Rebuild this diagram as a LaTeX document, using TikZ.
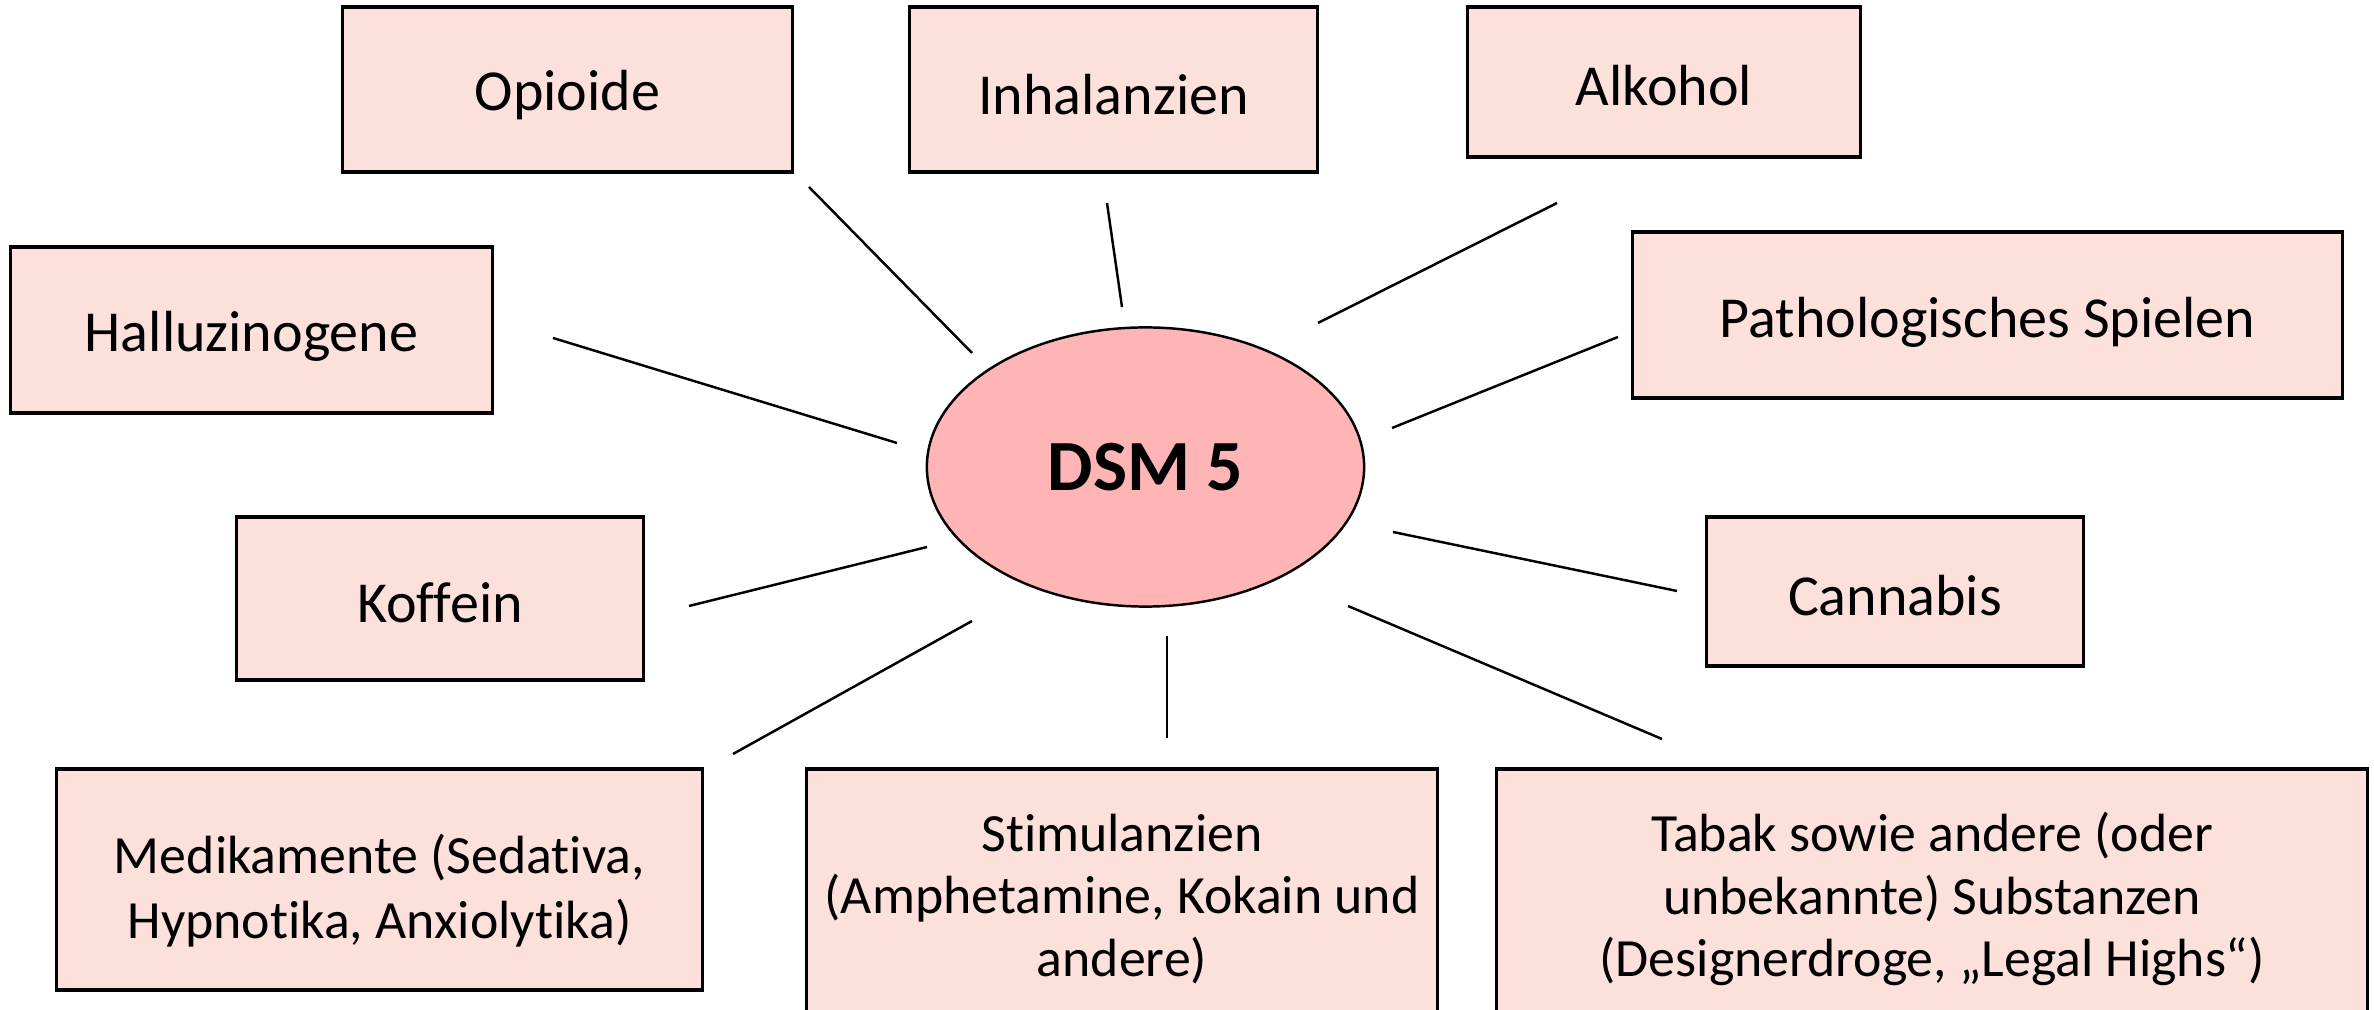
\documentclass[tikz,border=0pt]{standalone}
\usepackage{fontspec}
\setmainfont{Carlito}[Ligatures=CommonOff]
\usetikzlibrary{shapes.geometric}
\definecolor{boxfill}{RGB}{252,224,220}
\definecolor{ellfill}{RGB}{255,181,181}
\begin{document}
\begin{tikzpicture}[x=0.01cm,y=-0.01cm,
  box/.style={draw=black, line width=0.9pt, fill=boxfill, inner sep=0pt},
  txt/.style={align=center, inner sep=0pt, font=\fontsize{16.5}{18.2}\selectfont},
  txtm/.style={txt, font=\fontsize{15.3}{18.3}\selectfont},
  txts/.style={txt, font=\fontsize{15.3}{17.7}\selectfont},
  conn/.style={draw=black, line width=0.7pt}]
\path[use as bounding box, clip] (0,0) rectangle (2374,1010);
\fill[white] (0,0) rectangle (2374,1010);
% boxes
\node[box, minimum width=4.49cm, minimum height=1.65cm,
      label={[txt,yshift=-0.06cm]center:{Opioide}}] (opi) at (567.5,89.5) {};
\node[box, minimum width=4.07cm, minimum height=1.65cm,
      label={[txt,yshift=-0.05cm]center:{Inhalanzien}}] (inh) at (1113.5,89.5) {};
\node[box, minimum width=3.92cm, minimum height=1.50cm,
      label={[txt,yshift=-0.04cm]center:{Alkohol}}] (alk) at (1664,82) {};
\node[box, minimum width=4.81cm, minimum height=1.66cm,
      label={[txt,yshift=-0.06cm]center:{Halluzinogene}}] (hal) at (251.5,330) {};
\node[box, minimum width=7.09cm, minimum height=1.66cm,
      label={[txt,yshift=-0.07cm]center:{Pathologisches Spielen}}] (pat) at (1987.5,315) {};
\node[box, minimum width=4.06cm, minimum height=1.63cm,
      label={[txt,yshift=-0.04cm]center:{Koffein}}] (kof) at (440,598.5) {};
\node[box, minimum width=3.76cm, minimum height=1.49cm,
      label={[txt,yshift=-0.04cm]center:{Cannabis}}] (can) at (1895,591.5) {};
\node[box, minimum width=6.45cm, minimum height=2.21cm,
      label={[txtm,yshift=-0.11cm]center:{Medikamente (Sedativa,\\Hypnotika, Anxiolytika)}}] (med) at (379.5,879.5) {};
\node[box, minimum width=6.30cm, minimum height=2.54cm,
      label={[txts,yshift=-0.03cm]center:{Stimulanzien\\(Amphetamine, Kokain und\\andere)}}] (sti) at (1122,896) {};
\node[box, minimum width=8.70cm, minimum height=2.54cm,
      label={[txts,yshift=-0.03cm]center:{Tabak sowie andere (oder\\unbekannte) Substanzen\\(Designerdroge, „Legal Highs“)}}] (tab) at (1932,896) {};
% center
\node[draw=black, ellipse, fill=ellfill, line width=0.7pt, inner sep=0pt,
      minimum width=4.37cm, minimum height=2.79cm,
      font=\fontsize{20.5}{24}\selectfont\bfseries] (dsm) at (1145.5,467) {DSM 5};
% connector ends
\coordinate (opiA) at (809,187);  \coordinate (opiB) at (972,353);
\coordinate (inhA) at (1107,203); \coordinate (inhB) at (1122,307);
\coordinate (alkA) at (1557,203); \coordinate (alkB) at (1318,323);
\coordinate (halA) at (553,338);  \coordinate (halB) at (897,443);
\coordinate (patA) at (1618,337); \coordinate (patB) at (1392,428);
\coordinate (kofA) at (689,606);  \coordinate (kofB) at (927,547);
\coordinate (medA) at (733,754);  \coordinate (medB) at (972,621);
\coordinate (stiA) at (1167,738); \coordinate (stiB) at (1167,636);
\coordinate (canA) at (1677,591); \coordinate (canB) at (1393,532);
\coordinate (tabA) at (1662,739); \coordinate (tabB) at (1348,606);
\foreach \n in {opi,inh,alk,hal,pat,kof,med,sti,can,tab}
  \draw[conn] (\n A) -- (\n B);
\end{tikzpicture}
\end{document}
